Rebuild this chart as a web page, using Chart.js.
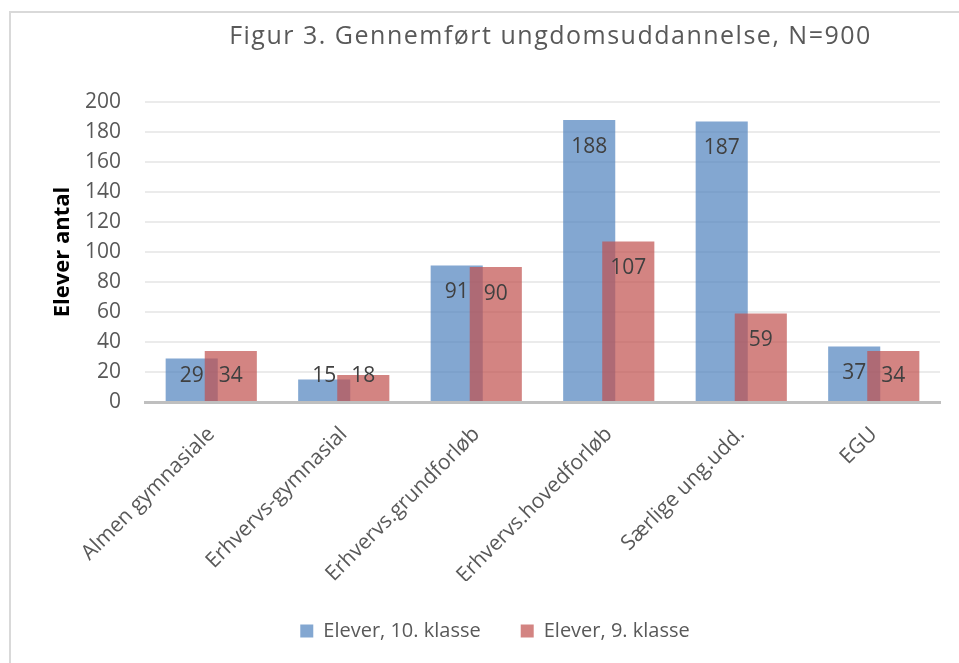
<!DOCTYPE html>
<html>
<head>
<meta charset="utf-8">
<script src="https://cdn.jsdelivr.net/npm/chart.js@4.4.0/dist/chart.umd.min.js"></script>
<style>
    html, body { margin: 0; padding: 0; background: #fff; overflow: hidden; }
    #frame { position: absolute; left: 9px; top: 11px; width: 2000px; height: 2000px; border: 2px solid #d9d9d9; }
    #wrap { position: absolute; left: 0; top: 0; width: 959px; height: 663px; }
</style>
</head>
<body>
<div id="frame"></div>
<div id="wrap"><canvas id="myChart"></canvas></div>
<script>
const categories = ['Almen gymnasiale', 'Erhvervs-gymnasial', 'Erhvervs.grundforløb', 'Erhvervs.hovedforløb', 'Særlige ung.udd.', 'EGU'];
const klasse10 = [29, 15, 91, 188, 187, 37];
const klasse9 = [34, 18, 90, 107, 59, 34];
const yTicks = [0, 20, 40, 60, 80, 100, 120, 140, 160, 180, 200];

const titleText = 'Figur 3. Gennemført ungdomsuddannelse, N=900';
const fontName = '"Open Sans", sans-serif';

// title drawn over the plot area centre, like the original
const titlePlugin = {
    id: 'figTitle',
    afterDraw(chart) {
        const ctx = chart.ctx;
        const area = chart.chartArea;
        ctx.save();
        ctx.font = '25px ' + fontName;
        ctx.fillStyle = '#595959';
        ctx.letterSpacing = '1.5px';
        ctx.textAlign = 'center';
        ctx.textBaseline = 'middle';
        ctx.fillText(titleText, (area.left + area.right) / 2 + 8, 37);
        ctx.restore();
    }
};

// 9. klasse bars go on top of the 10. klasse bars, then the value labels
const valueLabels = {
    id: 'valueLabels',
    beforeDatasetDraw(chart, args) {
        if (args.index === 1) return false;
    },
    afterDatasetsDraw(chart) {
        chart.getDatasetMeta(1).controller.draw();
        const ctx = chart.ctx;
        ctx.save();
        ctx.font = '21px ' + fontName;
        ctx.fillStyle = '#404040';
        ctx.textAlign = 'center';
        ctx.textBaseline = 'middle';
        chart.data.datasets.forEach((ds, i) => {
            const meta = chart.getDatasetMeta(i);
            meta.data.forEach((bar, j) => {
                const y = Math.min(bar.y + 27, bar.base - 25);
                ctx.fillText(ds.data[j], bar.x, y);
            });
        });
        ctx.restore();
    }
};

const ctx = document.getElementById('myChart').getContext('2d');
new Chart(ctx, {
    type: 'bar',
    data: {
        labels: categories,
        datasets: [
            {
                label: 'Elever, 10. klasse',
                data: klasse10,
                backgroundColor: 'rgba(79, 129, 189, 0.7)',
                borderWidth: 0
            },
            {
                label: 'Elever, 9. klasse',
                data: klasse9,
                backgroundColor: 'rgba(192, 80, 77, 0.7)',
                borderWidth: 0
            }
        ]
    },
    options: {
        responsive: true,
        maintainAspectRatio: false,
        animation: false,
        categoryPercentage: 0.59,
        barPercentage: 1.333,
        layout: {
            padding: { left: 50, top: 102, right: 19, bottom: 12 }
        },
        plugins: {
            title: { display: false },
            tooltip: { enabled: false },
            legend: {
                position: 'bottom',
                labels: {
                    font: { family: fontName, size: 20 },
                    color: '#595959',
                    boxWidth: 13,
                    boxHeight: 13,
                    padding: 40
                }
            }
        },
        scales: {
            x: {
                grid: { display: false },
                border: { color: '#bfbfbf', width: 3 },
                ticks: {
                    font: { family: fontName, size: 21 },
                    color: '#595959',
                    maxRotation: 45,
                    minRotation: 45,
                    padding: 12
                },
                afterFit(scale) { scale.height = 179; }
            },
            y: {
                min: 0,
                max: 200,
                afterBuildTicks(scale) { scale.ticks = yTicks.map(v => ({ value: v })); },
                grid: { color: '#ebebeb', lineWidth: 2, drawTicks: false },
                border: { display: false },
                ticks: {
                    font: { family: fontName, size: 21 },
                    color: '#595959',
                    padding: 24,
                    autoSkip: false
                },
                title: {
                    display: true,
                    text: 'Elever antal',
                    font: { family: fontName, size: 22, weight: 'bold' },
                    color: '#000',
                    padding: { top: 0, bottom: 0 }
                },
                afterFit(scale) { scale.width = 95; }
            }
        }
    },
    plugins: [valueLabels, titlePlugin]
});
</script>
</body>
</html>
